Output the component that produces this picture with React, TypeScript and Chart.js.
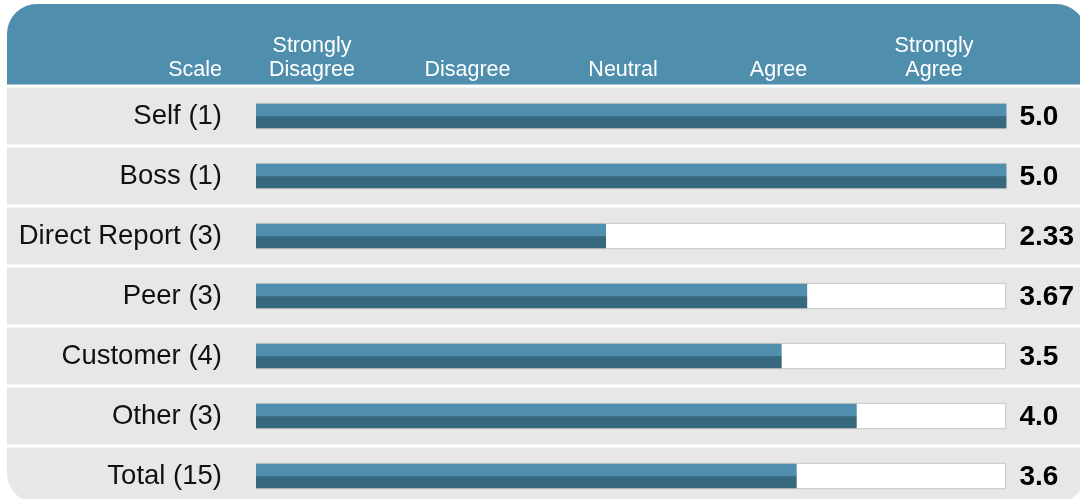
import React, { useEffect, useRef } from "react";
import { Chart, registerables } from "chart.js";

Chart.register(...registerables);

// ---------- data ----------
const categories = [
  "Self (1)",
  "Boss (1)",
  "Direct Report (3)",
  "Peer (3)",
  "Customer (4)",
  "Other (3)",
  "Total (15)",
];
const scores = [5.0, 5.0, 2.33, 3.67, 3.5, 4.0, 3.6];
const scoreLabels = ["5.0", "5.0", "2.33", "3.67", "3.5", "4.0", "3.6"];
const scaleMax = 5;
const trackValues = categories.map(() => scaleMax);
const headerTicks = [1, 2, 3, 4, 5];
const headerLabels: string[][] = [
  ["Strongly", "Disagree"],
  ["Disagree"],
  ["Neutral"],
  ["Agree"],
  ["Strongly", "Agree"],
];
const scaleTitle = "Scale";

// ---------- styles ----------
const FONT = '"Liberation Sans", Arial, Helvetica, sans-serif';
const HEADER_BLUE = "#4f8fad";
const BAR_LIGHT = "#5090ae";
const BAR_DARK = "#38687e";
const ROW_GRAY = "#e7e7e5";
const TRACK_BORDER = "#cfcfcd";

const W = 1080;
const H = 506;
const HEADER_H = 86;
const LABEL_COL = 256;

const backgroundPlugin = {
  id: "panelBackground",
  beforeDraw(chart: any) {
    const ctx = chart.ctx;
    const yScale = chart.scales.y;
    ctx.save();
    ctx.beginPath();
    (ctx as any).roundRect(7, 4, 1086 - 7, 503 - 4, 30);
    ctx.clip();
    ctx.fillStyle = ROW_GRAY;
    ctx.fillRect(0, 0, chart.width, chart.height);
    ctx.fillStyle = HEADER_BLUE;
    ctx.fillRect(0, 0, chart.width, chart.chartArea.top);
    ctx.fillStyle = "#ffffff";
    const step = yScale.height / categories.length;
    for (let i = 0; i < categories.length; i++) {
      const y = yScale.getPixelForValue(i) - step / 2;
      ctx.fillRect(0, y - 1.5, chart.width, 3);
    }
    ctx.restore();
  },
  afterDraw(chart: any) {
    const ctx = chart.ctx;
    const xScale = chart.scales.x;
    const yScale = chart.scales.y;
    const top = chart.scales.x2;
    ctx.save();
    // "Scale" header
    ctx.font = `21.5px ${FONT}`;
    ctx.fillStyle = "#ffffff";
    ctx.textAlign = "right";
    ctx.textBaseline = "middle";
    ctx.fillText(scaleTitle, yScale.right - 34, top.bottom - 4 - 12);
    // value labels
    ctx.font = `bold 28px ${FONT}`;
    ctx.fillStyle = "#000000";
    ctx.textAlign = "left";
    const vx = xScale.getPixelForValue(scaleMax) + 13;
    scoreLabels.forEach((t, i) => {
      ctx.fillText(t, vx, yScale.getPixelForValue(i) + 1);
    });
    ctx.restore();
  },
};

export default function App() {
  const ref = useRef<HTMLCanvasElement | null>(null);

  useEffect(() => {
    if (!ref.current) return;
    const chart = new Chart(ref.current, {
      type: "bar",
      data: {
        labels: categories,
        datasets: [
          {
            label: "upper",
            data: scores,
            backgroundColor: BAR_LIGHT,
            borderWidth: 0,
            barThickness: 12,
            order: 0,
          },
          {
            label: "lower",
            data: scores,
            backgroundColor: BAR_DARK,
            borderWidth: 0,
            barThickness: 12,
            order: 1,
          },
          {
            label: "track",
            data: trackValues,
            backgroundColor: "#ffffff",
            borderColor: TRACK_BORDER,
            borderWidth: 1.5,
            borderSkipped: false,
            grouped: false,
            maxBarThickness: 27,
            order: 5,
          } as any,
        ],
      },
      options: {
        indexAxis: "y",
        responsive: false,
        animation: false,
        devicePixelRatio: 1,
        layout: { padding: { left: 0, right: 73.5, top: 0, bottom: 0 } },
        plugins: {
          legend: { display: false },
          tooltip: { enabled: false },
        },
        scales: {
          x: {
            type: "linear",
            min: 0,
            max: scaleMax,
            display: false,
          },
          x2: {
            type: "linear",
            position: "top",
            min: 0.64,
            max: 5.466,
            grid: { display: false, drawTicks: false },
            border: { display: false },
            afterFit: (s: any) => {
              s.height = HEADER_H;
              s.paddingLeft = 0;
              s.paddingRight = 0;
            },
            afterBuildTicks: (s: any) => {
              s.ticks = headerTicks.map((v) => ({ value: v }));
            },
            ticks: {
              autoSkip: false,
              maxRotation: 0,
              minRotation: 0,
              padding: 4,
              color: "#ffffff",
              font: { family: FONT, size: 21.5, lineHeight: 1.12 },
              callback: (_v: any, i: number) => headerLabels[i],
            },
          },
          y: {
            type: "category",
            grid: { display: false, drawTicks: false },
            border: { display: false },
            afterFit: (s: any) => {
              s.width = LABEL_COL;
              s.paddingTop = 0;
              s.paddingBottom = 0;
            },
            ticks: {
              padding: 34,
              color: "#111111",
              font: { family: FONT, size: 27.5 },
            },
          },
        },
      },
      plugins: [backgroundPlugin],
    } as any);
    return () => chart.destroy();
  }, []);

  return (
    <div
      style={{
        position: "fixed",
        left: 0,
        top: 0,
        width: W,
        height: 499,
        overflow: "hidden",
        background: "#ffffff",
      }}
    >
      <canvas ref={ref} width={W} height={H} style={{ display: "block", width: W, height: H }} />
    </div>
  );
}
